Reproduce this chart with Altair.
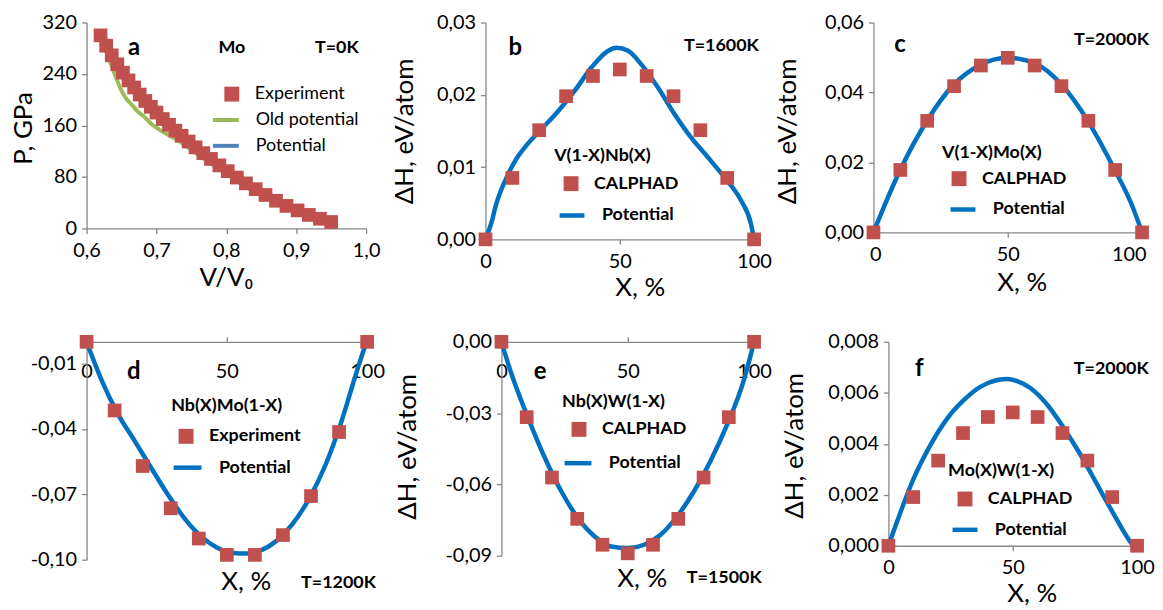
import altair as alt
import pandas as pd

FONT = "Lato"
RED = "#C0504D"
BLUE = "#0070C0"
BLUE_A = "#4F81BD"
GREEN = "#9BBB59"
GRAY = "#868686"
INK = "#000000"

# ---------------- data ----------------
# panel a : Mo, P(V/V0)
a_exp_v = [0.620, 0.628, 0.636, 0.644, 0.652, 0.660, 0.668, 0.676, 0.684, 0.692, 0.700,
           0.709, 0.718, 0.727, 0.736, 0.746, 0.756, 0.767, 0.778, 0.790, 0.802, 0.815,
           0.828, 0.842, 0.856, 0.871, 0.886, 0.902, 0.918, 0.934, 0.950]
a_exp_p = [300, 284, 269, 255, 242, 230, 219, 208, 198, 189, 180, 170, 161, 152, 144, 135,
           126, 117, 108, 98, 89, 79, 70, 61, 52, 43, 35, 28, 21, 15, 10]
a_old_v = [0.620, 0.628, 0.635, 0.642, 0.649, 0.656, 0.664, 0.673, 0.683, 0.692, 0.702,
           0.716, 0.731, 0.745, 0.760, 0.780, 0.799, 0.818, 0.837, 0.858, 0.880, 0.900,
           0.920, 0.935, 0.945]
a_old_p = [300, 275, 255, 235, 216, 203, 193, 182, 173, 163, 155, 146, 137, 126, 114, 99,
           85, 72, 62, 50, 39, 30, 21, 15, 11]
a_pot_v = [0.621, 0.640, 0.664, 0.688, 0.712, 0.736, 0.760, 0.784, 0.808, 0.832, 0.856,
           0.880, 0.905, 0.929, 0.946]
a_pot_p = [304, 258, 219, 188, 162, 142, 119, 98, 80, 62, 49, 36, 23, 13, 9]

pct = [0, 10, 20, 30, 40, 50, 60, 70, 80, 90, 100]

# panel b : V(1-X)Nb(X)
b_cal = [0, 0.0085, 0.0151, 0.0198, 0.0226, 0.0235, 0.0226, 0.0198, 0.0151, 0.0085, 0]
b_pot_x = [0, 2.5, 3.7, 7.4, 11.1, 14.8, 21, 27.2, 33.3, 39.5, 45.7, 48.8, 53.1, 58,
           64.2, 70.4, 76.5, 82.7, 88.9, 95.1, 98.8, 100]
b_pot_y = [0, 0.0027, 0.0045, 0.0082, 0.0109, 0.0128, 0.0153, 0.0178, 0.0206, 0.0238,
           0.0261, 0.0265, 0.0261, 0.0242, 0.0210, 0.0173, 0.0141, 0.0114, 0.0086,
           0.0054, 0.0022, 0]

# panel c : V(1-X)Mo(X)
c_cal = [0, 0.01785, 0.0319, 0.0418, 0.0477, 0.0499, 0.0477, 0.0418, 0.0319, 0.01785, 0]
c_pot_x = [0, 5, 10, 20, 29.7, 39.5, 50, 60.4, 70.2, 80, 89.8, 95.9, 100]
c_pot_y = [0, 0.0093, 0.0179, 0.0320, 0.0421, 0.0478, 0.0499, 0.0482, 0.0421, 0.0316,
           0.0179, 0.0084, 0]

# panel d : Nb(X)Mo(1-X)
d_exp = [0, -0.0315, -0.0570, -0.0764, -0.0903, -0.0978, -0.0978, -0.0887, -0.0708,
         -0.0414, 0]
d_pot_x = [0, 2.5, 5.5, 11.3, 17.2, 23, 28.9, 34.7, 40.6, 46.4, 52.3, 57, 61.6, 67.5,
           73.3, 79.2, 85, 90.9, 95.6, 99.1, 100]
d_pot_y = [0, -0.0085, -0.0180, -0.0334, -0.0456, -0.0578, -0.0700, -0.0807, -0.0891,
           -0.0944, -0.0969, -0.0972, -0.0960, -0.0915, -0.0838, -0.0723, -0.0570,
           -0.0364, -0.0166, -0.0028, 0]

# panel e : Nb(X)W(1-X)
e_cal = [0, -0.0317, -0.0571, -0.0745, -0.0854, -0.0890, -0.0854, -0.0745, -0.0571,
         -0.0317, 0]
e_pot_x = [0, 4.2, 10.7, 17.3, 23.8, 30.3, 36.9, 43.4, 50, 56.5, 63, 69.5, 76.1, 82.6,
           89.2, 95.7, 100]
e_pot_y = [0, -0.0142, -0.0324, -0.0491, -0.0631, -0.0742, -0.0819, -0.0861, -0.0868,
           -0.0854, -0.0812, -0.0735, -0.0631, -0.0505, -0.0352, -0.0170, 0]

# panel f : Mo(X)W(1-X)
f_cal = [0, 0.00191, 0.00334, 0.00442, 0.00505, 0.00523, 0.00505, 0.00442, 0.00334,
         0.00191, 0]
f_pot_x = [0, 3.6, 10.3, 17, 23.7, 30.4, 37.1, 43.8, 47.8, 51.8, 57.2, 63.9, 70.5, 77.2,
           83.9, 90.6, 97.3, 98.5]
f_pot_y = [0, 0.00098, 0.00267, 0.00397, 0.00500, 0.00572, 0.00624, 0.00650, 0.00654,
           0.00646, 0.00618, 0.00553, 0.00462, 0.00358, 0.00241, 0.00124, 0.00015, 0]


def lbl(fmt):
    return ("(datum.value < 0 ? '-' : '') + "
            f"replace(format(abs(datum.value), '{fmt}'), '.', ',')")


def panel(w, h, xdom, ydom, xvals, yvals, xfmt, yfmt, xaxis_kw, yaxis_kw,
          pts_x, pts_y, pts_name, fill_leg, lines, stroke_leg, notes, lw=4.5):
    xenc = alt.X("x:Q", scale=alt.Scale(domain=xdom, nice=False, zero=False),
                 axis=alt.Axis(values=xvals, labelExpr=lbl(xfmt), **xaxis_kw))
    yenc = alt.Y("y:Q", scale=alt.Scale(domain=ydom, nice=False, zero=False),
                 axis=alt.Axis(values=yvals, labelExpr=lbl(yfmt), **yaxis_kw))
    pts = pd.DataFrame({"x": pts_x, "y": pts_y, "s": pts_name})
    point_layer = alt.Chart(pts).mark_point(
        shape="square", filled=True, size=190, opacity=1, strokeWidth=0
    ).encode(
        x=xenc, y=yenc,
        fill=alt.Fill("s:N", scale=alt.Scale(domain=[pts_name], range=[RED]),
                      legend=alt.Legend(orient="none", symbolType="square",
                                        symbolSize=225, symbolStrokeWidth=0,
                                        padding=0, **fill_leg)),
    )
    frames = []
    names, colors = [], []
    for name, xs, ys, col in lines:
        frames.append(pd.DataFrame({"x": xs, "y": ys, "s": name}))
        names.append(name)
        colors.append(col)
    ldf = pd.concat(frames, ignore_index=True)
    line_layer = alt.Chart(ldf).mark_line(
        strokeWidth=lw, interpolate="monotone"
    ).encode(
        x=xenc, y=yenc,
        stroke=alt.Stroke("s:N", scale=alt.Scale(domain=names, range=colors),
                          legend=alt.Legend(orient="none", symbolType="stroke",
                                            symbolStrokeWidth=lw, title=None,
                                            padding=0, **stroke_leg)),
        order="x:Q",
    )
    layers = [line_layer, point_layer]
    for (tx, ty, text, size, weight) in notes:
        layers.append(
            alt.Chart(pd.DataFrame({"x": [tx], "y": [ty], "t": [text]})).mark_text(
                font=FONT, fontSize=size, fontWeight=weight, color=INK,
                align="center", baseline="middle"
            ).encode(x=xenc, y=yenc, text="t:N")
        )
    return alt.layer(*layers).properties(width=w, height=h)


def xbottom(title, tx, ty, **extra):
    d = dict(orient="bottom", title=title, titleX=tx, titleY=ty,
             titleAlign="center", titleBaseline="middle", titleAngle=0,
             labelBaseline="middle", labelPadding=17)
    d.update(extra)
    return d


def xtop(title, tx, ty):
    return dict(orient="top", title=title, titleX=tx, titleY=ty,
                titleAlign="center", titleBaseline="middle", titleAngle=0,
                labelBaseline="middle", labelPadding=-35)


def yleft(title, tx, ty):
    if title is None:
        return dict(orient="left", title=None, labelPadding=5)
    return dict(orient="left", title=title, titleX=tx, titleY=ty, titleAngle=-90,
                titleAlign="center", titleBaseline="middle", labelPadding=5)


DH = "\u0394H, eV/atom"
XP = "X, %"
BIG = 24
MID = 18

pa = panel(
    281, 207, [0.6, 1.0], [0, 320], [0.6, 0.7, 0.8, 0.9, 1.0], [0, 80, 160, 240, 320],
    ".1f", ".0f",
    xbottom("V/V\u2080", 140, 49), yleft("P, GPa", -63, 106),
    a_exp_v, a_exp_p, "Experiment",
    dict(legendX=137, legendY=63, title=None, labelFontWeight="normal", labelOffset=14),
    [("Old potential", a_old_v, a_old_p, GREEN), ("Potential", a_pot_v, a_pot_p, BLUE_A)],
    dict(legendX=125, legendY=83, symbolSize=676, labelFontWeight="normal", labelOffset=15,
         rowPadding=2),
    [(0.668, 280, "a", BIG, "bold"), (0.808, 280, "Mo", MID, "bold"),
     (0.958, 280, "T=0K", MID, "bold")],
    lw=4,
)

pb = panel(
    270, 218, [0, 100], [0, 0.03], [0, 50, 100], [0, 0.01, 0.02, 0.03], ".0f", ".2f",
    xbottom(XP, 155, 48), yleft(DH, -81, 109),
    pct, b_cal, "CALPHAD",
    dict(legendX=69, legendY=125, title="V(1-X)Nb(X)", symbolOffset=8, labelOffset=14,
         titlePadding=10),
    [("Potential", b_pot_x, b_pot_y, BLUE)],
    dict(legendX=72, legendY=179, symbolSize=625, labelOffset=15),
    [(11.1, 0.0264, "b", BIG, "bold"), (87.8, 0.0267, "T=1600K", MID, "bold")],
)

pc = panel(
    270, 211, [0, 100], [0, 0.06], [0, 50, 100], [0, 0.02, 0.04, 0.06], ".0f", ".2f",
    xbottom(XP, 149, 50, labelFlush=True, labelFlushOffset=4), yleft(DH, -86, 109),
    pct, c_cal, "CALPHAD",
    dict(legendX=69, legendY=122, title="V(1-X)Mo(X)", symbolOffset=8, labelOffset=14,
         titlePadding=8),
    [("Potential", c_pot_x, c_pot_y, BLUE)],
    dict(legendX=75, legendY=173, symbolSize=625, labelOffset=15),
    [(9.9, 0.0535, "c", BIG, "bold"), (88.6, 0.0549, "T=2000K", MID, "bold")],
)

pdd = panel(
    282, 219, [0, 100], [-0.10, 0], [0, 50, 100], [-0.01, -0.04, -0.07, -0.10],
    ".0f", ".2f",
    xtop(XP, 160, 241), yleft(None, 0, 0),
    pct, d_exp, "Experiment",
    dict(legendX=85, legendY=56, title="Nb(X)Mo(1-X)", symbolOffset=6, labelOffset=14,
         titlePadding=12),
    [("Potential", d_pot_x, d_pot_y, BLUE)],
    dict(legendX=85, legendY=110, symbolSize=784, labelOffset=15),
    [(16.8, -0.0137, "d", BIG, "bold"), (89.8, -0.1105, "T=1200K", MID, "bold")],
)

pe = panel(
    254, 215, [0, 100], [-0.09, 0], [0, 50, 100], [0, -0.03, -0.06, -0.09],
    ".0f", ".2f",
    xtop(XP, 141, 238), yleft(DH, -94, 105),
    pct, e_cal, "CALPHAD",
    dict(legendX=61, legendY=52, title="Nb(X)W(1-X)", symbolOffset=8, labelOffset=14,
         titlePadding=9),
    [("Potential", e_pot_x, e_pot_y, BLUE)],
    dict(legendX=61, legendY=106, symbolSize=729, labelOffset=15),
    [(15.3, -0.0126, "e", BIG, "bold"), (88.2, -0.0996, "T=1500K", MID, "bold")],
)

pf = panel(
    250, 205, [0, 100], [0, 0.008], [0, 50, 100], [0, 0.002, 0.004, 0.006, 0.008],
    ".0f", ".3f",
    xbottom(XP, 144, 48), yleft(DH, -94, 104),
    pct, f_cal, "CALPHAD",
    dict(legendX=60, legendY=121, title="Mo(X)W(1-X)", symbolOffset=8, labelOffset=14,
         titlePadding=10),
    [("Potential", f_pot_x, f_pot_y, BLUE)],
    dict(legendX=62, legendY=174, symbolSize=625, labelOffset=15),
    [(12.4, 0.00695, "f", BIG, "bold"), (89.6, 0.00695, "T=2000K", MID, "bold")],
)

row1 = alt.hconcat(pa, pb, pc, spacing=120, bounds="flush").resolve_scale(
    fill="independent", stroke="independent")
row2 = alt.hconcat(pdd, pe, pf, spacing=135, bounds="flush").resolve_scale(
    fill="independent", stroke="independent")

chart = alt.vconcat(row1, row2, spacing=32).resolve_scale(
    fill="independent", stroke="independent"
).properties(
    padding={"left": 3, "top": 3, "right": 0, "bottom": 0},
    background="white",
).configure_view(
    stroke=None
).configure_axis(
    domainColor=GRAY, tickColor=GRAY, domainWidth=1.3, tickWidth=1.3, tickSize=5,
    grid=False, labelFont=FONT, labelFontSize=20, labelColor=INK,
    titleFont=FONT, titleFontSize=26, titleFontWeight="normal", titleColor=INK,
    labelFlush=False, labelOverlap=False,
).configure_legend(
    labelFont=FONT, labelFontSize=18, labelFontWeight="bold", labelColor=INK,
    titleFont=FONT, titleFontSize=18, titleFontWeight="bold", titleColor=INK,
)

chart.save("out.html", embed_options={"renderer": "svg", "actions": False})
